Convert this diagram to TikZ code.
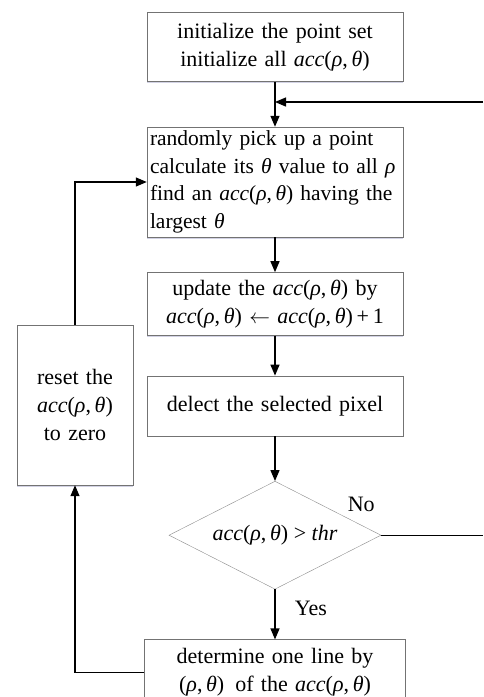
\documentclass[tikz,border=0pt]{standalone}
\usepackage{fontspec}
\setmainfont{Liberation Serif}
\usetikzlibrary{positioning, shapes.geometric, arrows.meta, shadows}

\newcommand{\acc}{\textit{acc}(\textit{ρ},\,\textit{θ})}

\begin{document}
\begin{tikzpicture}[x=1pt, y=-1pt, node distance=40pt, >={Triangle[length=11pt, width=9pt]}]
        \tikzset{
            % Define style for process boxes
            stap/.style={
                    rectangle,
                    draw=black!55, thin,
                    fill=white,
                    drop shadow={shadow xshift=0.4pt, shadow yshift=-1.6pt,
                        fill=blue!25!gray!70, opacity=0.4},
                    inner sep=2pt,
                    text width=252pt,
                    font=\fontsize{22}{28}\selectfont,
                    align=center},
            % Define style for the decision
            keuze/.style={
                    diamond,
                    draw=black!45, thin,
                    fill=white,
                    aspect=2,
                    minimum width=212pt,
                    minimum height=108pt,
                    inner sep=0pt,
                    font=\fontsize{22}{28}\selectfont},
            % Define arrow style
            pijl/.style={
                    ->,
                    line width=1.3pt},
            tekst/.style={font=\fontsize{22}{28}\selectfont},
        }
        \useasboundingbox (0,0) rectangle (483,697);

        % Draw the steps
        \node[stap, minimum height=110pt, inner xsep=3pt, text width=250pt, align=left,
            font=\fontsize{21.5}{27.5}\selectfont] (pick) at (275,182)
            {randomly pick up a point\\ calculate its \textit{θ} value to all \textit{ρ}\\
             find an \acc{} having the\\ largest \textit{θ}};
        \node[stap, minimum height=69pt, above=45pt of pick] (init)
            {initialize the point set\\ initialize all \acc};
        \node[stap, minimum height=63pt, below=35pt of pick] (update)
            {update the \acc{} by\\ \acc{} $\leftarrow$ \acc{}\,+\,1};
        \node[stap, minimum height=60pt, below=40pt of update] (delect)
            {delect the selected pixel};
        \node[keuze, below=45pt of delect] (test) {\acc{} > \textit{thr}};
        \node[stap, text width=257pt, minimum height=66pt, below=50pt of test] (line)
            {determine one line by\\ (\textit{ρ},\,\textit{θ})\enspace of the \acc};
        \node[stap, text width=112pt, minimum height=160pt] (reset) at (75,405)
            {reset the\\ \acc\\ to zero};

        % Loose ends at the right border
        \coordinate (terug) at (483,102);
        \coordinate (nee) at (test.east -| terug);

        % Connect the steps with arrows
        \draw[pijl] (init) -- (pick);
        \draw[pijl] (terug) -- (terug -| init.south);
        \draw[pijl] (pick) -- (update);
        \draw[pijl] (update) -- (delect);
        \draw[pijl] (delect) -- (test);
        \draw[pijl] (test) -- node[tekst, right=16pt, pos=0.38] (ja) {Yes} (line);
        \draw[line width=1pt] (test.east) -- (nee);
        \node[tekst] (neelabel) at ([xshift=-20pt, yshift=31pt]test.east) {No};
        \draw[pijl] (line.west) -| (reset.south);
        \draw[pijl] (reset.north) |- (pick.west);

    \end{tikzpicture}
\end{document}
